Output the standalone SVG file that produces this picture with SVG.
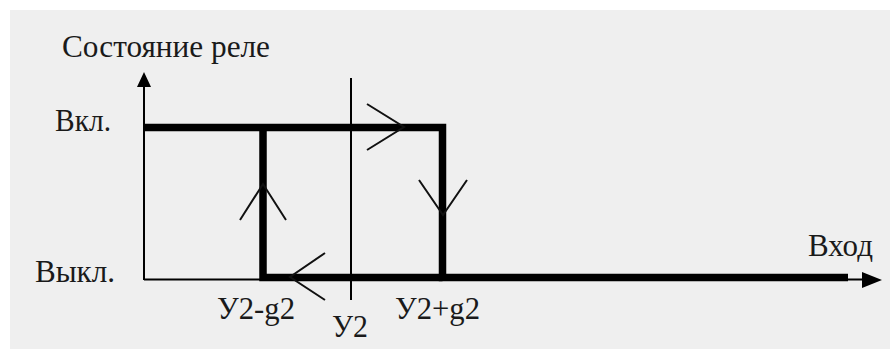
<svg xmlns="http://www.w3.org/2000/svg" width="890" height="349" viewBox="0 0 890 349">
  <style>
    .t { font-family: "Liberation Serif", "DejaVu Serif", serif; font-size: 31px; fill: #1a1a1a; }
    .thin { stroke: #000; stroke-width: 2; fill: none; }
    .thick { stroke: #000; stroke-width: 7.5; fill: none; stroke-linejoin: miter; }
    .chev { stroke: #111; stroke-width: 2; fill: none; }
  </style>
  <rect x="0" y="0" width="890" height="349" fill="#ffffff"/>
  <rect x="10" y="10" width="880" height="339" fill="#efefef"/>

  <g id="axes">
    <line class="thin" x1="144" y1="280" x2="144" y2="84"/>
    <polygon points="144,72 137,87 151,87" fill="#000"/>
    <line class="thin" x1="144" y1="279.5" x2="870" y2="279.5"/>
    <polygon points="882,280 862,272 862,288" fill="#000"/>
    <line class="thin" x1="351" y1="78" x2="351" y2="300"/>
  </g>

  <g id="loop">
    <polyline class="thick" points="144,127.5 442.5,127.5 442.5,277.5 848,277.5"/>
    <polyline class="thick" points="263,127.5 263,277.5 442.5,277.5"/>
  </g>

  <g id="direction-arrows">
    <polyline class="chev" points="367,104 404,127 367,150"/>
    <polyline class="chev" points="419,180 443,215 467,180"/>
    <polyline class="chev" points="240,220 263,184 286,220"/>
    <polyline class="chev" points="325,253 290,277 325,300"/>
  </g>

  <g id="labels">
    <text class="t" x="62" y="57" textLength="208" lengthAdjust="spacingAndGlyphs">Состояние реле</text>
    <text class="t" x="55" y="131" textLength="56" lengthAdjust="spacingAndGlyphs">Вкл.</text>
    <text class="t" x="35" y="282" textLength="80" lengthAdjust="spacingAndGlyphs">Выкл.</text>
    <text class="t" x="808" y="256" textLength="65" lengthAdjust="spacingAndGlyphs">Вход</text>
    <text class="t" x="217" y="319" textLength="78" lengthAdjust="spacingAndGlyphs">У2-g2</text>
    <text class="t" x="332" y="337" textLength="36" lengthAdjust="spacingAndGlyphs">У2</text>
    <text class="t" x="395" y="319" textLength="85" lengthAdjust="spacingAndGlyphs">У2+g2</text>
  </g>
</svg>
